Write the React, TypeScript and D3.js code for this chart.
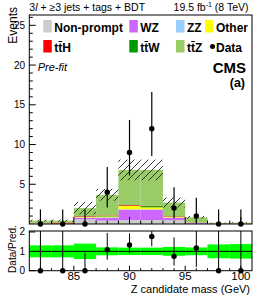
import React, { useEffect, useRef } from 'react';
import * as d3 from 'd3';

// Z candidate mass bins (2 GeV wide)
const binCenters = [82, 84, 86, 88, 90, 92, 94, 96, 98, 100];
const binWidth = 2;

// stacked predictions, bottom to top
const nonPrompt = [0.05, 0, 0.6, 0.42, 0.5, 0.5, 0.5, 0.04, 0, 0];
const wz = [0.03, 0.02, 0.2, 0.38, 1.28, 1.28, 0.3, 0.1, 0.01, 0.02];
const zz = [0, 0, 0.02, 0.03, 0.07, 0.07, 0.02, 0, 0, 0];
const other = [0.02, 0.02, 0.08, 0.12, 0.42, 0.25, 0.1, 0.02, 0.01, 0.01];
const ttW = [0.02, 0.02, 0.04, 0.06, 0.04, 0.15, 0.04, 0.02, 0.01, 0.01];
const ttH = [0.03, 0.12, 0.06, 0.06, 0.08, 0.03, 0.04, 0.02, 0.01, 0.01];
const ttZ = [0.27, 0.24, 1.0, 2.6, 4.41, 4.52, 1.7, 0.65, 0.1, 0.11];
const predUnc = [0.13, 0.13, 0.8, 0.75, 1.3, 1.3, 0.62, 0.17, 0.05, 0.06];

// observed events with Poisson interval
const dataCounts = [0, 0, 0, 4, 9, 12, 2, 1, 0, 0];
const dataLow = [0, 0, 0, 2.09, 6.1, 8.55, 0.71, 0.17, 0, 0];
const dataHigh = [1.84, 1.84, 1.84, 7.16, 13.1, 16.6, 4.64, 3.3, 1.84, 1.84];

const yTicks = [5, 10, 15, 20, 25];
const xTicks = [85, 90, 95, 100];
const ratioTicks = [0, 1, 2];

const processKeys = ['nonPrompt', 'wz', 'zz', 'other', 'ttW', 'ttH', 'ttZ'];
const processValues: Record<string, number[]> = { nonPrompt, wz, zz, other, ttW, ttH, ttZ };
const processColors: Record<string, string> = {
  nonPrompt: '#cccccc',
  wz: '#cc66ff',
  zz: '#99ccff',
  other: '#ffff00',
  ttW: '#009900',
  ttH: '#ff0000',
  ttZ: '#99cc66',
};

const FONT = 'Liberation Sans, Arial, Helvetica, sans-serif';

const App = () => {
  const ref = useRef<SVGSVGElement>(null);

  useEffect(() => {
    if (!ref.current) return;
    const svg = d3.select(ref.current);
    svg.selectAll('*').remove();

    const W = 266, H = 300;
    const left = 29.3, right = 252;
    const mainTop = 15, mainBottom = 224;
    const ratioTop = 231, ratioBottom = 270.7;

    const x = d3.scaleLinear().domain([81, 101]).range([left, right]);
    const y = d3.scaleLinear().domain([0, 26.3]).range([mainBottom, mainTop]);
    const yr = d3.scaleLinear().domain([0, 2.05]).range([ratioBottom, ratioTop]);

    svg.attr('width', W).attr('height', H).style('font-family', FONT);
    svg.append('rect').attr('width', W).attr('height', H).attr('fill', 'white');

    const defs = svg.append('defs');
    defs.append('pattern')
      .attr('id', 'hatch')
      .attr('patternUnits', 'userSpaceOnUse')
      .attr('width', 7).attr('height', 7)
      .append('path')
      .attr('d', 'M-1,1 l2,-2 M0,7 l7,-7 M6,8 l2,-2')
      .attr('stroke', '#222').attr('stroke-width', 0.9);
    defs.append('clipPath').attr('id', 'clipMain')
      .append('rect').attr('x', left).attr('y', mainTop).attr('width', right - left).attr('height', mainBottom - mainTop);
    defs.append('clipPath').attr('id', 'clipRatio')
      .append('rect').attr('x', left).attr('y', ratioTop).attr('width', right - left).attr('height', ratioBottom - ratioTop);

    // stacked histogram
    const rows = binCenters.map((c, i) => {
      const r: Record<string, number> = { c };
      processKeys.forEach(k => { r[k] = processValues[k][i]; });
      return r;
    });
    const series = d3.stack<Record<string, number>>().keys(processKeys)(rows);
    const totals = binCenters.map((_, i) => d3.sum(processKeys, k => processValues[k][i]));

    const main = svg.append('g').attr('clip-path', 'url(#clipMain)');
    series.forEach(s => {
      main.selectAll(null)
        .data(s)
        .enter()
        .append('rect')
        .attr('x', d => x(d.data.c - binWidth / 2))
        .attr('width', d => x(d.data.c + binWidth / 2) - x(d.data.c - binWidth / 2))
        .attr('y', d => y(d[1]))
        .attr('height', d => Math.max(0, y(d[0]) - y(d[1])))
        .attr('fill', processColors[s.key]);
    });

    // uncertainty hatch
    main.selectAll(null)
      .data(binCenters)
      .enter()
      .append('rect')
      .attr('x', c => x(c - binWidth / 2))
      .attr('width', c => x(c + binWidth / 2) - x(c - binWidth / 2))
      .attr('y', (_, i) => y(totals[i] + predUnc[i]))
      .attr('height', (_, i) => y(Math.max(0, totals[i] - predUnc[i])) - y(totals[i] + predUnc[i]))
      .attr('fill', 'url(#hatch)');

    // axis ticks (inward)
    const ticksG = svg.append('g').attr('stroke', 'black').attr('stroke-width', 1);
    d3.range(1, 27).forEach(v => {
      const major = v % 5 === 0;
      ticksG.append('line').attr('x1', left).attr('x2', left + (major ? 6.5 : 3.5))
        .attr('y1', y(v)).attr('y2', y(v));
    });
    d3.range(82, 101).forEach(v => {
      const major = v % 5 === 0;
      ticksG.append('line').attr('x1', x(v)).attr('x2', x(v))
        .attr('y1', mainBottom).attr('y2', mainBottom - (major ? 7 : 3.5));
      ticksG.append('line').attr('x1', x(v)).attr('x2', x(v))
        .attr('y1', ratioBottom).attr('y2', ratioBottom - (major ? 5 : 2.5));
    });
    ratioTicks.forEach(v => {
      ticksG.append('line').attr('x1', left).attr('x2', left + 6)
        .attr('y1', yr(v)).attr('y2', yr(v));
    });

    svg.append('g').selectAll('text')
      .data(yTicks).enter().append('text')
      .attr('x', 25).attr('y', v => y(v) + 3.5)
      .attr('text-anchor', 'end').attr('font-size', 10)
      .text(v => v);

    // data points in main panel
    const dataG = svg.append('g');
    dataG.selectAll('line')
      .data(binCenters).enter().append('line')
      .attr('x1', c => x(c)).attr('x2', c => x(c))
      .attr('y1', (_, i) => y(dataLow[i])).attr('y2', (_, i) => y(dataHigh[i]))
      .attr('stroke', 'black').attr('stroke-width', 1.2);
    dataG.selectAll('circle')
      .data(binCenters).enter().append('circle')
      .attr('cx', c => x(c)).attr('cy', (_, i) => y(dataCounts[i]))
      .attr('r', 2.7).attr('fill', 'black');

    svg.append('rect').attr('x', left).attr('y', mainTop)
      .attr('width', right - left).attr('height', mainBottom - mainTop)
      .attr('fill', 'none').attr('stroke', 'black');

    // ratio panel
    const ratio = svg.append('g').attr('clip-path', 'url(#clipRatio)');
    ratio.selectAll('rect')
      .data(binCenters).enter().append('rect')
      .attr('x', c => x(c - binWidth / 2))
      .attr('width', c => x(c + binWidth / 2) - x(c - binWidth / 2))
      .attr('y', (_, i) => yr(1 + predUnc[i] / totals[i]))
      .attr('height', (_, i) => yr(1 - predUnc[i] / totals[i]) - yr(1 + predUnc[i] / totals[i]))
      .attr('fill', '#00ff00');
    ratio.append('line').attr('x1', left).attr('x2', right)
      .attr('y1', yr(1)).attr('y2', yr(1)).attr('stroke', 'black');
    ratio.selectAll('line.err')
      .data(binCenters).enter().append('line')
      .attr('class', 'err')
      .attr('x1', c => x(c)).attr('x2', c => x(c))
      .attr('y1', (_, i) => yr(dataLow[i] / totals[i])).attr('y2', (_, i) => yr(dataHigh[i] / totals[i]))
      .attr('stroke', 'black').attr('stroke-width', 1);
    svg.append('g').selectAll('circle')
      .data(binCenters).enter().append('circle')
      .attr('cx', c => x(c)).attr('cy', (_, i) => yr(dataCounts[i] / totals[i]))
      .attr('r', 2.7).attr('fill', 'black');

    svg.append('rect').attr('x', left).attr('y', ratioTop)
      .attr('width', right - left).attr('height', ratioBottom - ratioTop)
      .attr('fill', 'none').attr('stroke', 'black');

    svg.append('g').selectAll('text')
      .data(ratioTicks).enter().append('text')
      .attr('x', 25).attr('y', v => yr(v) + 3.5)
      .attr('text-anchor', 'end').attr('font-size', 10)
      .text(v => v);
    svg.append('g').selectAll('text')
      .data(xTicks).enter().append('text')
      .attr('x', v => x(v)).attr('y', 280)
      .attr('text-anchor', 'middle').attr('font-size', 11.5)
      .text(v => v);

    // axis titles
    svg.append('text').attr('x', 250).attr('y', 293)
      .attr('text-anchor', 'end').attr('font-size', 11)
      .text('Z candidate mass (GeV)');
    svg.append('text').attr('transform', 'translate(16.5,7) rotate(-90)')
      .attr('text-anchor', 'end').attr('font-size', 12)
      .text('Events');
    svg.append('text').attr('transform', 'translate(15.5,249) rotate(-90)')
      .attr('text-anchor', 'middle').attr('font-size', 10)
      .text('Data/Pred.');

    // header
    const t1 = svg.append('text').attr('x', 29.3).attr('y', 10.5).attr('font-size', 10.5);
    t1.append('tspan').text('3');
    t1.append('tspan').attr('font-style', 'italic').text('l');
    t1.append('tspan').text(' + \u22653 jets + tags + BDT');
    const t2 = svg.append('text').attr('x', 248.5).attr('y', 10.5)
      .attr('text-anchor', 'end').attr('font-size', 10.5);
    t2.append('tspan').text('19.5 fb');
    t2.append('tspan').attr('font-size', 7).attr('dy', -4).text('-1');
    t2.append('tspan').attr('dy', 4).text(' (8 TeV)');

    svg.append('text').attr('x', 37.7).attr('y', 71.3)
      .attr('font-size', 11).attr('font-style', 'italic').text('Pre-fit');
    svg.append('text').attr('x', 246).attr('y', 72.7)
      .attr('text-anchor', 'end').attr('font-size', 15).attr('font-weight', 'bold').text('CMS');
    svg.append('text').attr('x', 245).attr('y', 86.5)
      .attr('text-anchor', 'end').attr('font-size', 12.5).attr('font-weight', 'bold').text('(a)');

    // legend
    const legendItems = [
      { key: 'nonPrompt', label: 'Non-prompt', col: 0, row: 0 },
      { key: 'wz', label: 'WZ', col: 1, row: 0 },
      { key: 'zz', label: 'ZZ', col: 2, row: 0 },
      { key: 'other', label: 'Other', col: 3, row: 0 },
      { key: 'ttH', label: 'ttH', col: 0, row: 1 },
      { key: 'ttW', label: 'ttW', col: 1, row: 1 },
      { key: 'ttZ', label: 'ttZ', col: 2, row: 1 },
      { key: 'data', label: 'Data', col: 3, row: 1 },
    ];
    const colX = [43.3, 129.3, 176, 205];
    const rowY = [20, 40];
    const lg = svg.append('g').attr('font-size', 12).attr('font-weight', 'bold');
    legendItems.forEach(it => {
      const sx = colX[it.col];
      const sy = rowY[it.row];
      const tx = sx + 11;
      const base = sy + 11.8;
      if (it.key === 'data') {
        lg.append('circle').attr('cx', sx + 7.5).attr('cy', sy + 6.5).attr('r', 2.5).attr('fill', 'black');
      } else {
        lg.append('rect').attr('x', sx).attr('y', sy).attr('width', 8.5).attr('height', 12.5)
          .attr('fill', processColors[it.key]);
      }
      lg.append('text').attr('x', tx).attr('y', base).text(it.label);
      if (it.label.startsWith('tt')) {
        // bar over the second t
        lg.append('line').attr('x1', tx + 4.2).attr('x2', tx + 7.8)
          .attr('y1', base - 10.3).attr('y2', base - 10.3)
          .attr('stroke', 'black').attr('stroke-width', 1);
      }
    });
  }, []);

  return (
    <svg ref={ref} style={{ position: 'absolute', left: 0, top: 0, display: 'block' }}></svg>
  );
};

export default App;
